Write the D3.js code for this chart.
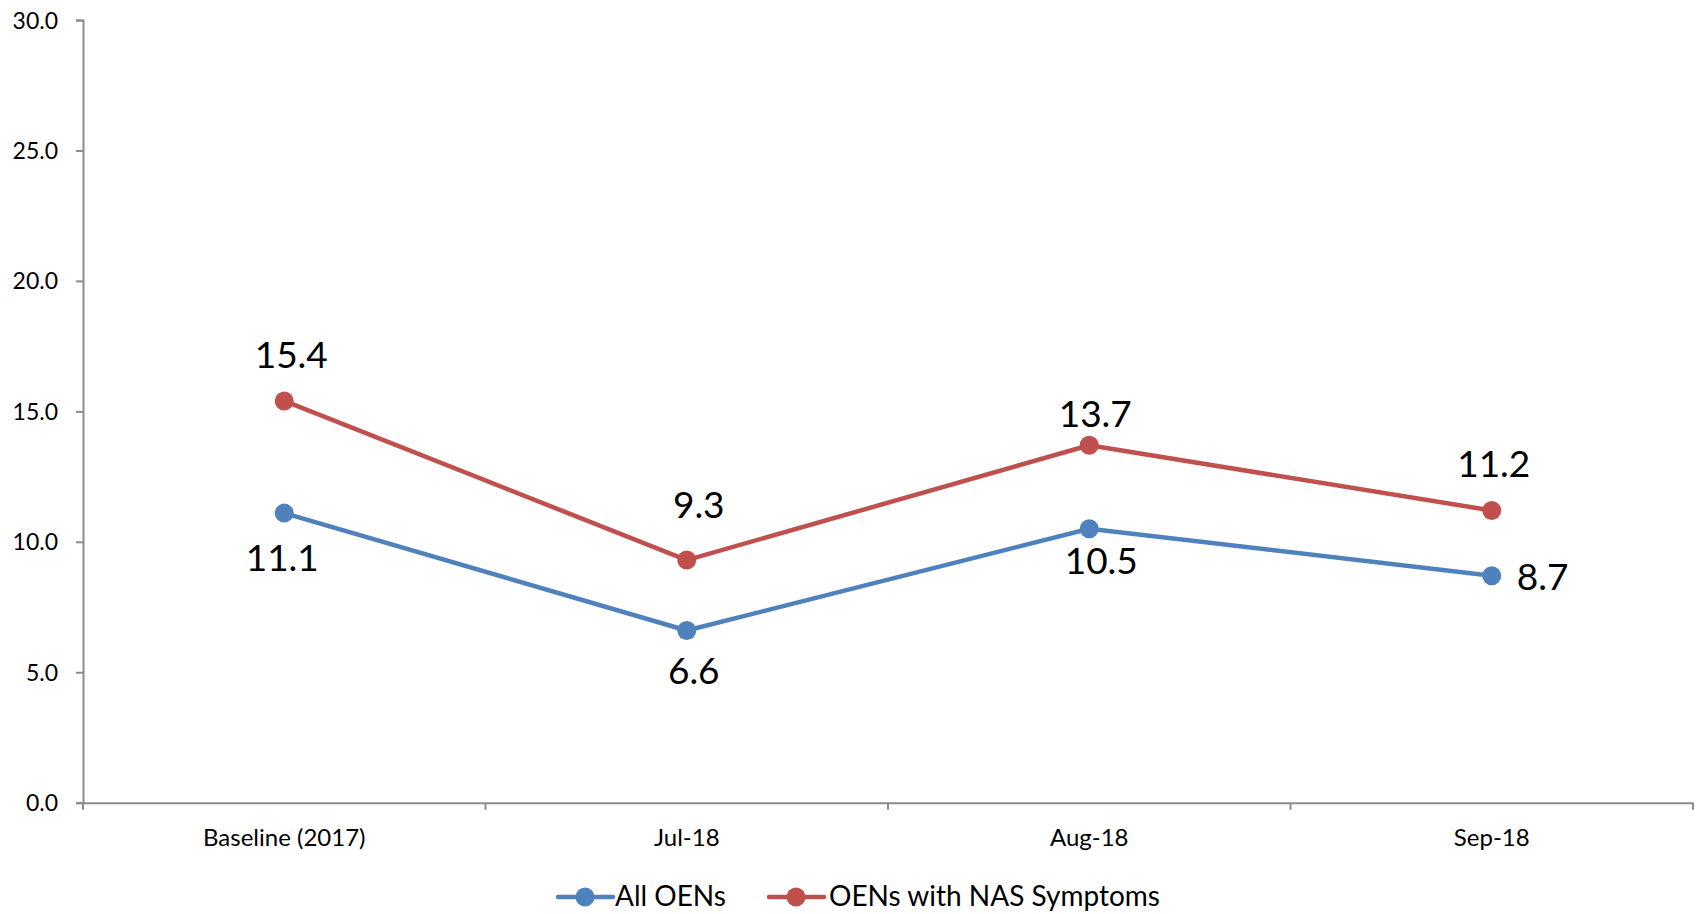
<!DOCTYPE html>
<html lang="en">
<head>
<meta charset="utf-8">
<title>OENs line chart</title>
<script src="https://cdn.jsdelivr.net/npm/d3@7"></script>
<style>
  body { margin: 0; background: #fff; }
  svg text { font-family: Lato, "Open Sans", sans-serif; fill: #000; }
</style>
</head>
<body>
<script>
// data
var categories = ["Baseline (2017)", "Jul-18", "Aug-18", "Sep-18"];
var allOENs = [11.1, 6.6, 10.5, 8.7];
var nasOENs = [15.4, 9.3, 13.7, 11.2];
var yTicks = [0, 5, 10, 15, 20, 25, 30];
var seriesNames = ["All OENs", "OENs with NAS Symptoms"];

// label placement (hand-nudged in the original chart), [dx, dy] from the point
var allLabelNudge = [[-2, 58], [7, 53], [12, 45], [25, 14]];
var nasLabelNudge = [[7, -33], [12, -42], [6, -18], [2, -33]];
var allAnchor = ["middle", "middle", "middle", "start"];
var nasAnchor = ["middle", "middle", "middle", "middle"];

var W = 1698, H = 914;
var mLeft = 83, mRight = 1693, mTop = 20, mBottom = 802.7;
var axisColor = "#8c8c8c";
var colors = ["#4f81bd", "#c0504d"];

var svg = d3.select("body").append("svg")
  .attr("width", W).attr("height", H);

var x = d3.scaleBand().domain(categories).range([mLeft, mRight]);
var y = d3.scaleLinear().domain([0, 30]).range([mBottom, mTop]);

// y axis
var yAxis = svg.append("g")
  .attr("transform", "translate(" + mLeft + ",0)")
  .call(d3.axisLeft(y).tickValues(yTicks).tickSize(7).tickPadding(18)
    .tickFormat(d3.format(".1f")));
yAxis.select(".domain").attr("stroke", axisColor).attr("stroke-width", 2);
yAxis.selectAll(".tick line").attr("stroke", axisColor).attr("stroke-width", 2);
yAxis.selectAll(".tick text").attr("font-size", 23).attr("dy", "0.35em")
  .style("font-family", "Lato");

// x axis
var xAxis = svg.append("g")
  .attr("transform", "translate(0," + mBottom + ")")
  .call(d3.axisBottom(x).tickSize(0).tickPadding(0));
xAxis.select(".domain").attr("stroke", axisColor).attr("stroke-width", 2);
xAxis.selectAll(".tick text").attr("font-size", 24).attr("dy", 0)
  .attr("y", 43).style("font-family", "Lato");
// boundary ticks between categories
var edges = categories.map(function(c) { return x(c); }).concat([mRight]);
xAxis.selectAll(".edge").data(edges).enter().append("line")
  .attr("x1", function(d) { return d; }).attr("x2", function(d) { return d; })
  .attr("y1", 0).attr("y2", 7)
  .attr("stroke", axisColor).attr("stroke-width", 2);

var cx = function(i) { return x(categories[i]) + x.bandwidth() / 2; };

var line = d3.line()
  .x(function(d, i) { return cx(i); })
  .y(function(d) { return y(d); });

function drawSeries(values, color, nudge, anchor) {
  svg.append("path").datum(values)
    .attr("d", line)
    .attr("fill", "none")
    .attr("stroke", color)
    .attr("stroke-width", 4.5)
    .attr("stroke-linejoin", "round");
  svg.selectAll(null).data(values).enter().append("circle")
    .attr("cx", function(d, i) { return cx(i); })
    .attr("cy", function(d) { return y(d); })
    .attr("r", 9.5)
    .attr("fill", color);
  svg.selectAll(null).data(values).enter().append("text")
    .attr("font-size", 37)
    .attr("text-anchor", function(d, i) { return anchor[i]; })
    .attr("x", function(d, i) { return cx(i) + nudge[i][0]; })
    .attr("y", function(d, i) { return y(d) + nudge[i][1]; })
    .text(function(d) { return d3.format(".1f")(d); });
}

drawSeries(allOENs, colors[0], allLabelNudge, allAnchor);
drawSeries(nasOENs, colors[1], nasLabelNudge, nasAnchor);

// legend
var legendItems = [
  { name: seriesNames[0], color: colors[0], x0: 558, tx: 615 },
  { name: seriesNames[1], color: colors[1], x0: 769, tx: 829 }
];
var legY = 897;
var leg = svg.append("g");
legendItems.forEach(function(d) {
  leg.append("line")
    .attr("x1", d.x0).attr("x2", d.x0 + 55)
    .attr("y1", legY).attr("y2", legY)
    .attr("stroke", d.color).attr("stroke-width", 4.5)
    .attr("stroke-linecap", "round");
  leg.append("circle")
    .attr("cx", d.x0 + 27).attr("cy", legY).attr("r", 9.5)
    .attr("fill", d.color);
  leg.append("text")
    .attr("x", d.tx).attr("y", 906)
    .attr("font-size", 28)
    .text(d.name);
});
</script>
</body>
</html>
